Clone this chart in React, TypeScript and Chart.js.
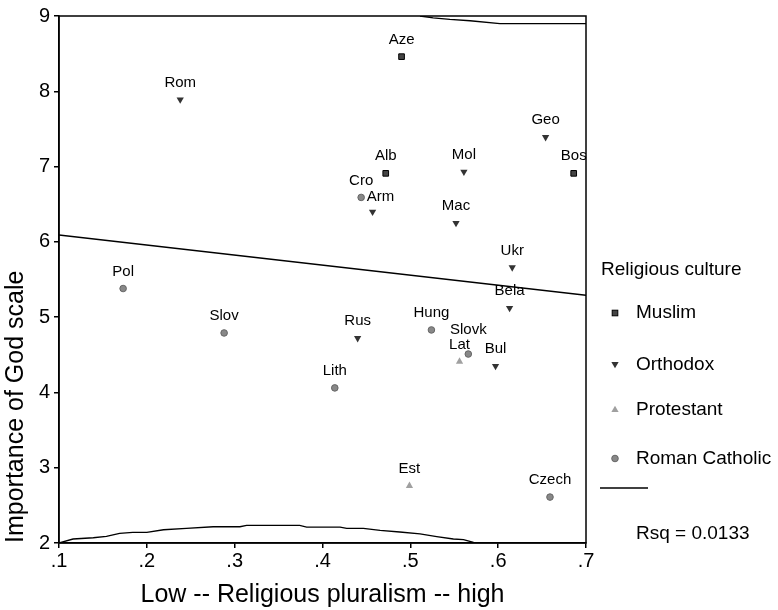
import React, { useEffect, useRef } from 'react';
import { Chart, registerables } from 'chart.js';

Chart.register(...registerables);

const FONT = "'Liberation Sans', Arial, Helvetica, sans-serif";

// ---- data ----
const muslimNames = ['Aze', 'Alb', 'Bos'];
const muslimX = [0.49, 0.472, 0.686];
const muslimY = [8.46, 6.91, 6.91];

const orthodoxNames = ['Rom', 'Arm', 'Geo', 'Mol', 'Mac', 'Ukr', 'Bela', 'Rus', 'Bul'];
const orthodoxX = [0.238, 0.457, 0.654, 0.561, 0.552, 0.616, 0.613, 0.44, 0.597];
const orthodoxY = [7.89, 6.4, 7.39, 6.93, 6.25, 5.66, 5.12, 4.72, 4.35];

const protestantNames = ['Lat', 'Est'];
const protestantX = [0.556, 0.499];
const protestantY = [4.41, 2.76];

const catholicNames = ['Cro', 'Pol', 'Slov', 'Lith', 'Hung', 'Slovk', 'Czech'];
const catholicX = [0.444, 0.173, 0.288, 0.414, 0.524, 0.566, 0.659];
const catholicY = [6.59, 5.38, 4.79, 4.06, 4.83, 4.51, 2.61];

const fitX = [0.1, 0.7];
const fitY = [6.09, 5.29];

const upperX = [0.511, 0.526, 0.545, 0.568, 0.602, 0.7];
const upperY = [9.0, 8.976, 8.955, 8.937, 8.9, 8.9];

const lowerX = [0.1, 0.116, 0.139, 0.154, 0.169, 0.184, 0.2, 0.219, 0.245, 0.2755, 0.306, 0.3136, 0.374, 0.382, 0.42, 0.4276, 0.4465, 0.4656, 0.488, 0.511, 0.53, 0.549, 0.5605, 0.572, 0.579];
const lowerY = [2.0, 2.053, 2.07, 2.088, 2.128, 2.141, 2.141, 2.176, 2.194, 2.216, 2.216, 2.234, 2.234, 2.212, 2.212, 2.194, 2.194, 2.168, 2.146, 2.12, 2.084, 2.053, 2.044, 2.008, 2.0];

const xTicks = [0.1, 0.2, 0.3, 0.4, 0.5, 0.6, 0.7];
const yTicks = [2, 3, 4, 5, 6, 7, 8, 9];

const legendTitle = 'Religious culture';
const legendNames = ['Muslim', 'Orthodox', 'Protestant', 'Roman Catholic'];
const rsqText = 'Rsq = 0.0133';

// label nudges for overlapping labels (dx, dy in px)
const labelNudge: Record<string, [number, number]> = { Arm: [8, 2], Slovk: [0, -7.5] };

const pts = (xs: number[], ys: number[]) => xs.map((x, i) => ({ x, y: ys[i] }));

const seriesNames = [muslimNames, orthodoxNames, protestantNames, catholicNames];

function drawMarker(ctx: CanvasRenderingContext2D, kind: number, x: number, y: number) {
  ctx.save();
  if (kind === 0) {
    ctx.fillStyle = '#444';
    ctx.strokeStyle = '#000';
    ctx.lineWidth = 1;
    ctx.fillRect(x - 2.8, y - 2.8, 5.6, 5.6);
    ctx.strokeRect(x - 2.8, y - 2.8, 5.6, 5.6);
  } else if (kind === 1 || kind === 2) {
    const r = 4.2;
    const dir = kind === 1 ? 1 : -1;
    ctx.fillStyle = kind === 1 ? '#333' : '#a0a0a0';
    ctx.beginPath();
    ctx.moveTo(x, y + dir * r);
    ctx.lineTo(x - r * 0.866, y - dir * r / 2);
    ctx.lineTo(x + r * 0.866, y - dir * r / 2);
    ctx.closePath();
    ctx.fill();
  } else {
    ctx.fillStyle = '#888';
    ctx.strokeStyle = '#666';
    ctx.lineWidth = 1;
    ctx.beginPath();
    ctx.arc(x, y, 3.3, 0, Math.PI * 2);
    ctx.fill();
    ctx.stroke();
  }
  ctx.restore();
}

const framePlugin = {
  id: 'frame',
  afterDatasetsDraw(chart: any) {
    const { ctx, chartArea: a } = chart;
    ctx.save();
    ctx.strokeStyle = '#000';
    ctx.lineWidth = 1.5;
    ctx.strokeRect(a.left, a.top, a.right - a.left, a.bottom - a.top);
    ctx.restore();
  },
};

const labelPlugin = {
  id: 'pointLabels',
  afterDatasetsDraw(chart: any) {
    const { ctx } = chart;
    ctx.save();
    ctx.font = `15px ${FONT}`;
    ctx.fillStyle = '#000';
    ctx.textAlign = 'center';
    ctx.textBaseline = 'middle';
    seriesNames.forEach((names, di) => {
      const meta = chart.getDatasetMeta(di);
      meta.data.forEach((el: any, i: number) => {
        const name = names[i];
        const n = labelNudge[name] || [0, 0];
        ctx.fillText(name, el.x + n[0], el.y - 17 + n[1]);
      });
    });
    ctx.restore();
  },
};

const legendPlugin = {
  id: 'customLegend',
  afterDraw(chart: any) {
    const { ctx, chartArea: a } = chart;
    const x0 = a.right + 15;
    ctx.save();
    ctx.font = `19px ${FONT}`;
    ctx.fillStyle = '#000';
    ctx.textAlign = 'left';
    ctx.textBaseline = 'middle';
    ctx.fillText(legendTitle, x0, 270);
    const ys = [313, 365, 410, 458.5];
    legendNames.forEach((name, i) => {
      drawMarker(ctx, i, x0 + 14, ys[i] + (i === 1 ? -1 : i === 2 ? 0 : 0));
      ctx.fillStyle = '#000';
      ctx.fillText(name, x0 + 35, ys[i]);
    });
    ctx.strokeStyle = '#000';
    ctx.lineWidth = 1.5;
    ctx.beginPath();
    ctx.moveTo(x0 - 1, 488);
    ctx.lineTo(x0 + 47, 488);
    ctx.stroke();
    ctx.fillText(rsqText, x0 + 35, 534);
    ctx.restore();
  },
};

export default function App() {
  const ref = useRef<HTMLCanvasElement | null>(null);

  useEffect(() => {
    if (!ref.current) return;
    Chart.defaults.font.family = FONT;
    Chart.defaults.color = '#000';
    const chart = new Chart(ref.current, {
      type: 'scatter',
      data: {
        datasets: [
          {
            label: legendNames[0],
            data: pts(muslimX, muslimY),
            pointStyle: 'rect',
            pointRadius: 4,
            backgroundColor: '#444',
            borderColor: '#000',
            borderWidth: 1,
          },
          {
            label: legendNames[1],
            data: pts(orthodoxX, orthodoxY),
            pointStyle: 'triangle',
            pointRotation: 180,
            pointRadius: 4.2,
            backgroundColor: '#333',
            borderColor: '#333',
            borderWidth: 0,
          },
          {
            label: legendNames[2],
            data: pts(protestantX, protestantY),
            pointStyle: 'triangle',
            pointRadius: 4.2,
            backgroundColor: '#a0a0a0',
            borderColor: '#a0a0a0',
            borderWidth: 0,
          },
          {
            label: legendNames[3],
            data: pts(catholicX, catholicY),
            pointStyle: 'circle',
            pointRadius: 3.3,
            backgroundColor: '#888',
            borderColor: '#666',
            borderWidth: 1,
          },
          {
            type: 'line',
            label: 'fit',
            data: pts(fitX, fitY),
            showLine: true,
            pointRadius: 0,
            borderColor: '#000',
            borderWidth: 1.5,
            fill: false,
          },
          {
            type: 'line',
            label: 'upper',
            data: pts(upperX, upperY),
            showLine: true,
            pointRadius: 0,
            borderColor: '#000',
            borderWidth: 1.3,
            fill: false,
          },
          {
            type: 'line',
            label: 'lower',
            data: pts(lowerX, lowerY),
            showLine: true,
            pointRadius: 0,
            borderColor: '#000',
            borderWidth: 1.3,
            fill: false,
          },
        ] as any,
      },
      options: {
        animation: false,
        responsive: false,
        devicePixelRatio: 1,
        layout: { padding: { top: 16, right: 192, left: 0, bottom: 0 } },
        plugins: {
          legend: { display: false },
          tooltip: { enabled: false },
        },
        scales: {
          x: {
            type: 'linear',
            min: xTicks[0],
            max: xTicks[xTicks.length - 1],
            afterFit: (s: any) => {
              s.height = 67;
            },
            afterBuildTicks: (s: any) => {
              s.ticks = xTicks.map((v) => ({ value: v }));
            },
            ticks: {
              font: { size: 20, family: FONT },
              color: '#000',
              padding: 1,
              maxRotation: 0,
              autoSkip: false,
              callback: (v: any) => Number(v).toFixed(1).replace(/^0/, ''),
            },
            grid: { drawOnChartArea: false, drawTicks: true, tickLength: 5, color: '#000', lineWidth: 1.5 },
            border: { display: true, color: '#000', width: 1.5 },
            title: {
              display: true,
              text: 'Low -- Religious pluralism -- high',
              font: { size: 25, family: FONT },
              color: '#000',
              padding: { top: 0, bottom: 0 },
            },
          },
          y: {
            type: 'linear',
            min: yTicks[0],
            max: yTicks[yTicks.length - 1],
            afterFit: (s: any) => {
              s.width = 59;
            },
            afterBuildTicks: (s: any) => {
              s.ticks = yTicks.map((v) => ({ value: v }));
            },
            ticks: {
              font: { size: 20, family: FONT },
              color: '#000',
              padding: 4,
              autoSkip: false,
              callback: (v: any) => String(v),
            },
            grid: { drawOnChartArea: false, drawTicks: true, tickLength: 5, color: '#000', lineWidth: 1.5 },
            border: { display: true, color: '#000', width: 1.5 },
            title: {
              display: true,
              text: 'Importance of God scale',
              align: 'start',
              font: { size: 25, family: FONT },
              color: '#000',
              padding: { top: 1, bottom: 0 },
            },
          },
        },
      } as any,
      plugins: [framePlugin, labelPlugin, legendPlugin],
    });
    return () => chart.destroy();
  }, []);

  return (
    <div style={{ position: 'absolute', left: 0, top: 0, width: 778, height: 610, background: '#fff' }}>
      <canvas ref={ref} width={778} height={610} style={{ display: 'block' }} />
    </div>
  );
}
